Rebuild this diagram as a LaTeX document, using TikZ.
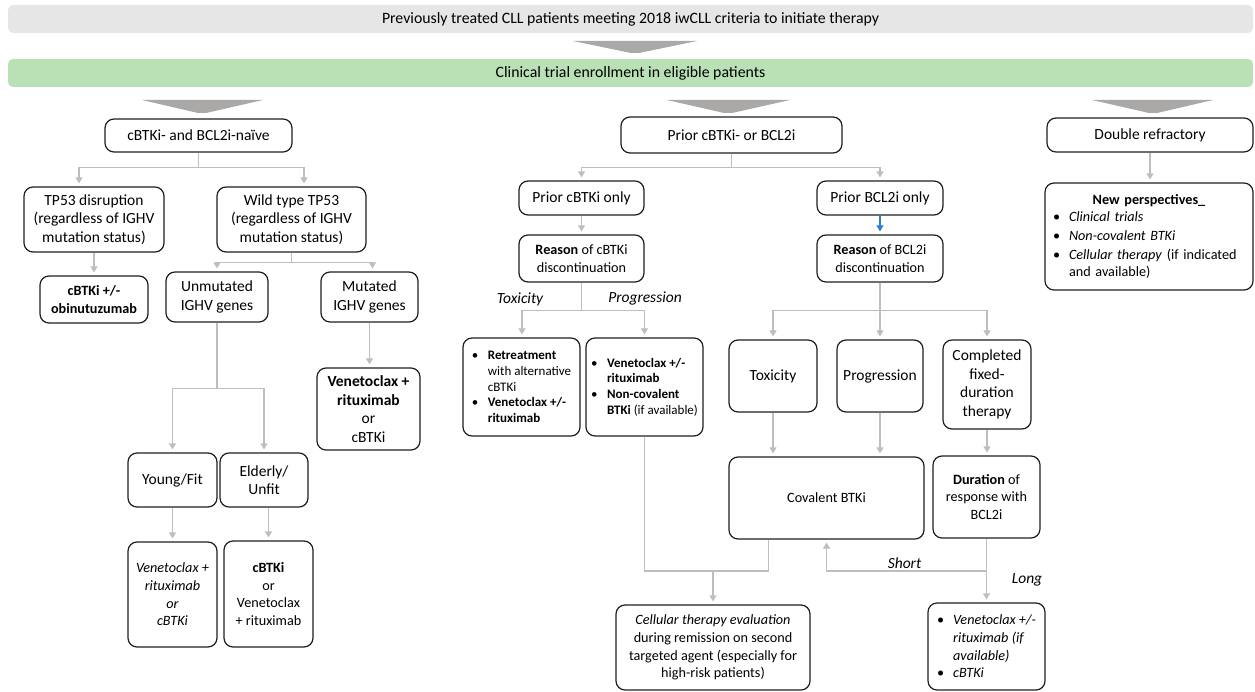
\documentclass[tikz,border=0pt]{standalone}
\usepackage{fontspec}
\setmainfont{Carlito}
\usetikzlibrary{arrows.meta,calc}
\newcommand\fsA{\fontsize{15.5}{18.5}\selectfont}
\newcommand\fsH{\fontsize{15.8}{18.5}\selectfont}
\newcommand\fsB{\fontsize{14.2}{17.6}\selectfont}
\newcommand\fsC{\fontsize{13}{15.7}\selectfont}
\definecolor{boxc}{RGB}{30,30,30}
\definecolor{linec}{RGB}{190,190,190}
\definecolor{chevc}{RGB}{171,168,168}
\definecolor{hdrc}{RGB}{230,230,230}
\definecolor{grnc}{RGB}{185,225,181}
\definecolor{bluec}{RGB}{46,125,214}
\begin{document}
\begin{tikzpicture}[x=1pt,y=-1pt,
  box/.style={draw=boxc, line width=1.2pt, rounded corners=9pt, inner sep=0pt, align=center, font=\fsA},
  bar/.style={rounded corners=5pt, inner sep=0pt, font=\fsH, minimum width=1245pt, minimum height=28pt},
  lineonly/.style={draw=linec, line width=1.2pt},
  conn/.style={lineonly, -{Triangle[width=7pt,length=6pt]}, shorten >=3pt},
  bconn/.style={draw=bluec, line width=1.2pt, -{Triangle[width=7pt,length=6pt]}, shorten >=3pt},
  lbl/.style={inner sep=0pt, font=\fsA\itshape},
  chev/.style={fill=chevc}]
\useasboundingbox (0,0) rectangle (1255,692);

% bars
\node[bar, fill=hdrc] (hdr) at (630.5,19) {Previously treated CLL patients meeting 2018 iwCLL criteria to initiate therapy};
\node[bar, fill=grnc] (grn) at (630.5,73) {Clinical trial enrollment in eligible patients};

% chevrons
\fill[chev] (573,41) -- (697,41) -- (639,53) -- (631,53) -- cycle;
\fill[chev] (142,100) -- (263,100) -- (206,113) -- (198,113) -- cycle;
\fill[chev] (667,100) -- (790,100) -- (732,113) -- (724,113) -- cycle;
\fill[chev] (1092,100) -- (1213,100) -- (1157,113) -- (1149,113) -- cycle;

% left column
\node[box, minimum width=187pt, minimum height=33pt] (naive) at (198.5,135.5) {cBTKi- and BCL2i-naïve};
\node[box, minimum width=140pt, minimum height=65pt] (tp53) at (94,219.5) {TP53 disruption\\(regardless of IGHV\\mutation status)};
\node[box, minimum width=149pt, minimum height=65pt] (wt) at (291.5,219.5) {Wild type TP53\\(regardless of IGHV\\mutation status)};
\node[box, font=\fsB, minimum width=108pt, minimum height=47pt] (obin) at (94,299.5) {\textbf{cBTKi +/-}\\\textbf{obinutuzumab}};
\node[box, minimum width=102pt, minimum height=50pt] (unmut) at (217,297) {Unmutated\\IGHV genes};
\node[box, minimum width=97pt, minimum height=50pt] (mut) at (369.5,297) {Mutated\\IGHV genes};
\node[box, minimum width=103pt, minimum height=82pt] (mres) at (368.5,409) {\textbf{Venetoclax +}\\\textbf{rituximab}\\or\\cBTKi};
\node[box, minimum width=89pt, minimum height=54pt] (young) at (172.5,480) {Young/Fit};
\node[box, minimum width=88pt, minimum height=54pt] (elderly) at (264,480) {Elderly/\\Unfit};
\node[box, font=\fsB, minimum width=89pt, minimum height=105pt] (yres) at (172.5,594.5) {\textit{Venetoclax +}\\\textit{rituximab}\\\textit{or}\\\textit{cBTKi}};
\node[box, font=\fsB, minimum width=89pt, minimum height=106pt] (eres) at (268.5,594) {\textbf{cBTKi}\\or\\Venetoclax\\+ rituximab};

\draw[conn] (naive.south) -- ++(0,15) -| ($(tp53.north)+(-15,0)$);
\draw[conn] (naive.south) -- ++(0,15) -| ($(wt.north)+(12.5,0)$);
\draw[conn] (tp53.south) -- (obin.north);
\draw[conn] (wt.south) -- ++(0,10) -| (unmut.north);
\draw[conn] (wt.south) -- ++(0,10) -| ($(mut.north)+(3,0)$);
\draw[conn] (mut.south) -- (mut.south |- mres.north);
\draw[conn] (unmut.south) -- ++(0,66) -| (young.north);
\draw[conn] (unmut.south) -- ++(0,66) -| (elderly.north);
\draw[conn] (young.south) -- (yres.north);
\draw[conn] (eres.north |- elderly.south) -- (eres.north);

% middle column
\node[box, minimum width=221pt, minimum height=36pt] (prior) at (731.5,135) {Prior cBTKi- or BCL2i};
\node[box, minimum width=125pt, minimum height=34pt] (pb) at (581.5,198) {Prior cBTKi only};
\node[box, minimum width=126pt, minimum height=34pt] (pc) at (880,198) {Prior BCL2i only};
\node[box, font=\fsB, minimum width=125pt, minimum height=47pt] (rb) at (581.5,258.5) {\textbf{Reason} of cBTKi\\discontinuation};
\node[box, font=\fsB, minimum width=126pt, minimum height=47pt] (rc) at (880,258.5) {\textbf{Reason} of BCL2i\\discontinuation};
\node[box, font=\fsC, align=left, minimum width=117pt, minimum height=98pt] (retr) at (521.5,387)
  {\makebox[16pt][l]{\textbullet}\textbf{Retreatment}\\\hspace*{16pt}with alternative\\\hspace*{16pt}cBTKi\\\makebox[16pt][l]{\textbullet}\textbf{Venetoclax +/-}\\\hspace*{16pt}\textbf{rituximab}};
\node[box, font=\fsC, align=left, minimum width=117pt, minimum height=98pt] (venb) at (644.5,387)
  {\makebox[16pt][l]{\textbullet}\textbf{Venetoclax +/-}\\\hspace*{16pt}\textbf{rituximab}\\\makebox[16pt][l]{\textbullet}\textbf{Non-covalent}\\\hspace*{16pt}\textbf{BTKi} (if available)};
\node[box, minimum width=88pt, minimum height=72pt] (tox) at (773,376) {Toxicity};
\node[box, minimum width=86pt, minimum height=72pt] (prog) at (880,376) {Progression};
\node[box, minimum width=88pt, minimum height=89pt] (comp) at (987,384.5) {Completed\\fixed-\\duration\\therapy};
\node[box, font=\fsB, minimum width=195pt, minimum height=82pt] (cov) at (826.5,498) {Covalent BTKi};
\node[box, font=\fsB, minimum width=107pt, minimum height=82pt] (dur) at (986.5,497) {\textbf{Duration} of\\response with\\BCL2i};
\node[box, font=\fsB, minimum width=194pt, minimum height=85pt] (cell) at (713,647.5) {\textit{Cellular therapy evaluation}\\during remission on second\\targeted agent (especially for\\high-risk patients)};
\node[box, font=\fsB, align=left, minimum width=117pt, minimum height=87pt] (venl) at (986.5,646.5)
  {\makebox[16pt][l]{\textbullet}\textit{Venetoclax +/-}\\\hspace*{16pt}\textit{rituximab (if}\\\hspace*{16pt}\textit{available)}\\\makebox[16pt][l]{\textbullet}\textit{cBTKi}};

\coordinate (jc) at (713,571);
\draw[conn] (prior.south) -- ++(0,14) -| (pb.north);
\draw[conn] (prior.south) -- ++(0,14) -| (pc.north);
\draw[conn] (pb.south) -- (rb.north);
\draw[bconn] (pc.south) -- (rc.north);
\draw[conn] (rb.south) -- ++(0,28) -| ($(retr.north)+(0.5,0)$);
\draw[conn] (rb.south) -- ++(0,28) -| (venb.north);
\draw[conn] (rc.south) -- ++(0,28) -| (tox.north);
\draw[conn] (rc.south) -- ++(0,28) -| (prog.north);
\draw[conn] (rc.south) -- ++(0,28) -| (comp.north);
\draw[conn] (tox.south) -- (tox.south |- cov.north);
\draw[conn] (prog.south) -- (prog.south |- cov.north);
\draw[conn] (comp.south) -- (comp.south |- dur.north);
\draw[lineonly] (venb.south) |- (jc) -| ($(cov.south)+(-58,0)$);
\draw[conn] (jc) -- (cell.north);
\draw[conn] (dur.south) -- (venl.north);
\draw[conn] (dur.south |- jc) -| (cov.south);

\node[lbl] (ltox) at (520,299) {Toxicity};
\node[lbl] (lprog) at (645,298) {Progression};
\node[lbl] (lshort) at (904.5,563) {Short};
\node[lbl] (llong) at (1027,580) {Long};

% right column
\node[box, minimum width=206pt, minimum height=34pt] (dbl) at (1150,135) {Double refractory};
\node[box, font=\fsB, align=left, text width=192pt, minimum width=208pt, minimum height=107pt] (newp) at (1149,236.5)
  {{\centering\textbf{New perspectives\_}\par}\raggedright
   \makebox[16pt][l]{\textbullet}\textit{Clinical trials}\\[1pt]
   \makebox[16pt][l]{\textbullet}\textit{Non-covalent BTKi}\\[1pt]
   \makebox[16pt][l]{\textbullet}\textit{Cellular therapy}\ (if indicated\\
   \hspace*{16pt}and available)\par\vspace{8pt}};
\draw[conn] (dbl.south) -- (dbl.south |- newp.north);
\end{tikzpicture}
\end{document}
